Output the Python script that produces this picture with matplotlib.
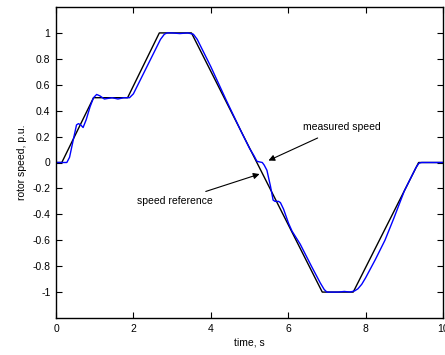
import matplotlib
matplotlib.use("Agg")
import matplotlib.pyplot as plt
from matplotlib.ticker import FuncFormatter

plt.rcParams['font.family'] = ['Liberation Sans', 'DejaVu Sans']
plt.rcParams['axes.unicode_minus'] = False

# speed reference (black)
t_ref = [0, 0.15, 0.97, 1.85, 2.67, 3.5, 6.88, 7.68, 9.37, 10]
w_ref = [0, 0, 0.5, 0.5, 1, 1, -1, -1, 0, 0]

# measured speed (blue)
t_meas = [0, 0.28, 0.35, 0.45, 0.53, 0.58, 0.64, 0.70, 0.78, 0.88, 0.97, 1.05,
          1.13, 1.25, 1.35, 1.45, 1.6, 1.75, 1.9, 2.0, 2.2, 2.5, 2.7, 2.8, 2.87,
          3.0, 3.2, 3.4, 3.55, 3.65, 3.8, 4.0, 4.2, 4.4, 4.6, 4.8, 5.0, 5.12,
          5.19, 5.25, 5.33, 5.38, 5.45, 5.54, 5.61, 5.66, 5.75, 5.8, 5.88, 6.01,
          6.1, 6.31, 6.6, 6.83, 6.93, 7.0, 7.3, 7.45, 7.6, 7.72, 7.8, 7.9, 8.0,
          8.25, 8.5, 8.73, 9.0, 9.2, 9.3, 9.38, 9.45, 10]
w_meas = [0, 0, 0.04, 0.18, 0.29, 0.30, 0.29, 0.27, 0.33, 0.43, 0.50, 0.525,
          0.515, 0.49, 0.495, 0.50, 0.49, 0.50, 0.50, 0.53, 0.65, 0.83, 0.95, 0.99, 1.0,
          1.0, 0.995, 1.0, 0.99, 0.95, 0.86, 0.74, 0.61, 0.48, 0.355, 0.23, 0.11, 0.05,
          0.01, 0.005, 0.0, -0.02, -0.06, -0.18, -0.29, -0.30, -0.30, -0.31, -0.36, -0.47,
          -0.53, -0.63, -0.8, -0.93, -0.98, -1.0, -1.0, -0.995, -1.0, -0.99, -0.975, -0.94, -0.89,
          -0.75, -0.6, -0.43, -0.22, -0.1, -0.04, -0.005, 0, 0]

xticks = [0, 2, 4, 6, 8, 10]
yticks = [-1, -0.8, -0.6, -0.4, -0.2, 0, 0.2, 0.4, 0.6, 0.8, 1]

fig = plt.figure(figsize=(4.45, 3.55), dpi=100)
ax = fig.add_axes([56 / 445, 1 - 318 / 355, 387 / 445, 311 / 355])

ax.plot(t_ref, w_ref, color='black', lw=1.0)
ax.plot(t_meas, w_meas, color='#0000ff', lw=1.0)

ax.set_xlim(0, 10)
ax.set_ylim(-1.2, 1.2)
ax.set_xticks(xticks)
ax.set_yticks(yticks)
ax.yaxis.set_major_formatter(FuncFormatter(lambda v, p: '%g' % round(v, 2)))
ax.tick_params(direction='in', top=True, right=True, length=4, width=0.8,
               labelsize=7.5, pad=4)
for s in ax.spines.values():
    s.set_linewidth(1.0)

ax.set_xlabel('time, s', fontsize=7.5, labelpad=3)
ax.set_ylabel('rotor speed, p.u.', fontsize=7.5, labelpad=4)

ax.annotate('measured speed', xy=(5.49, 0.015), xytext=(6.39, 0.276),
            fontsize=7.5, va='center', ha='left',
            arrowprops=dict(arrowstyle='-|>', color='black', lw=0.8,
                            shrinkA=6, shrinkB=0, mutation_scale=9))
ax.annotate('speed reference', xy=(5.26, -0.089), xytext=(2.1, -0.3),
            fontsize=7.5, va='center', ha='left',
            arrowprops=dict(arrowstyle='-|>', color='black', lw=0.8,
                            shrinkA=5, shrinkB=0, mutation_scale=9))

fig.savefig('out.png', dpi=100)
